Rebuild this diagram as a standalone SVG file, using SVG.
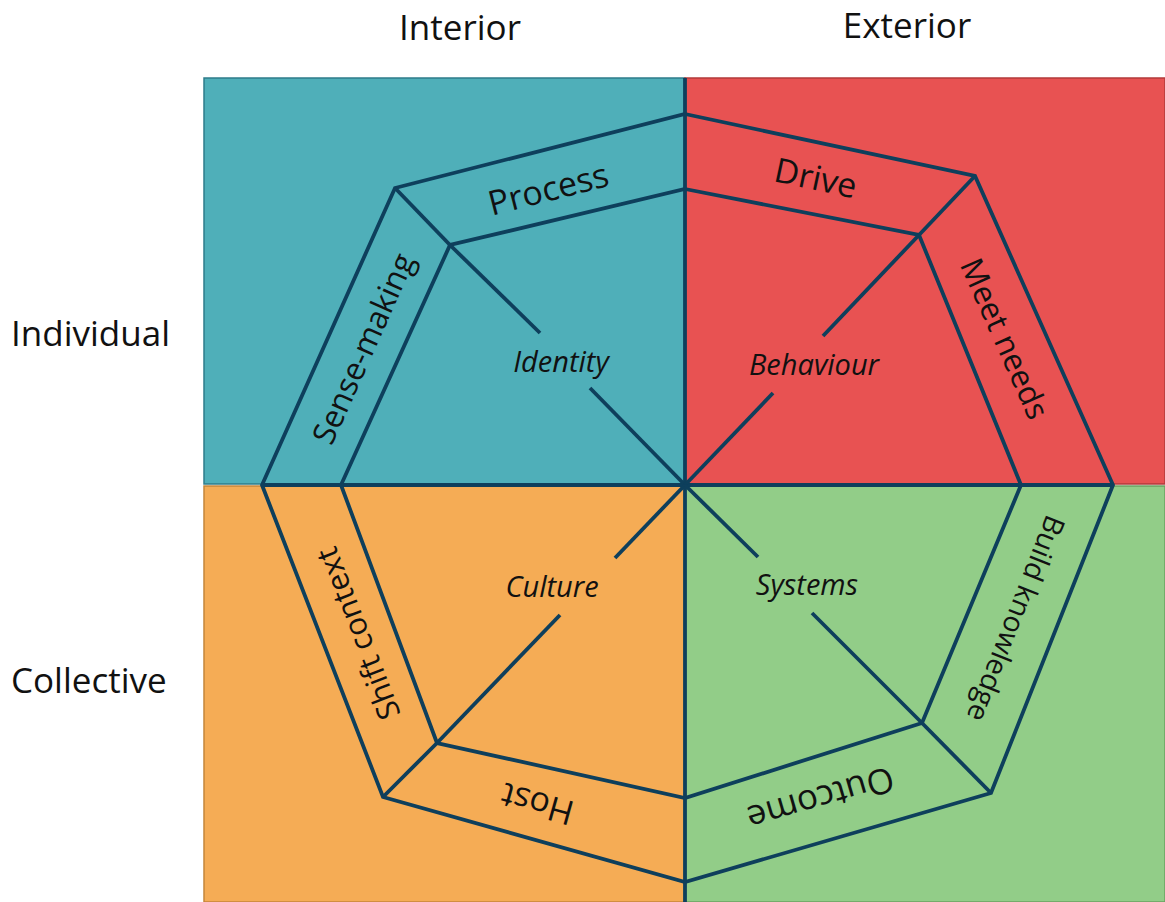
<svg xmlns="http://www.w3.org/2000/svg" width="1165" height="902" viewBox="0 0 1165 902">
<style>
.q{stroke-width:1.5}
.ln{fill:none;stroke:#0E3F5C;stroke-width:3.8;stroke-linejoin:miter}
.h{font-family:"Open Sans",Lato,sans-serif;font-size:35px;fill:#111}
.b{font-family:"Open Sans",Lato,sans-serif;font-size:34px;fill:#111;text-anchor:middle;dominant-baseline:central}
.i{font-family:"Open Sans",Lato,sans-serif;font-style:italic;font-size:29px;fill:#111;text-anchor:middle}
</style>
<rect width="1165" height="902" fill="#fff"/>
<g id="quadrants">
<rect class="q" x="204" y="78" width="481" height="406" fill="#4FAFB9" stroke="#2E7C8A"/>
<rect class="q" x="685" y="78" width="480" height="406" fill="#E85252" stroke="#B23A3A"/>
<rect class="q" x="204" y="486" width="481" height="416" fill="#F5AC55" stroke="#C4853A"/>
<rect class="q" x="685" y="486" width="480" height="416" fill="#92CD88" stroke="#6AA060"/>
</g>
<g id="connectors">
<polygon class="ln" points="685,114 975,176 1113,485 991,793 685,882 383,797 262,485 395,188"/>
<polygon class="ln" points="685,189 919,235 1021,485 922,723 685,798 437,743 341,485 450,245"/>
<line class="ln" x1="685" y1="78" x2="685" y2="902"/>
<line class="ln" x1="262" y1="485" x2="1113" y2="485"/>
<line class="ln" x1="395" y1="188" x2="450" y2="245"/>
<line class="ln" x1="975" y1="176" x2="919" y2="235"/>
<line class="ln" x1="383" y1="797" x2="437" y2="743"/>
<line class="ln" x1="991" y1="793" x2="922" y2="723"/>
<line class="ln" x1="450" y1="245" x2="540" y2="333"/>
<line class="ln" x1="590" y1="388" x2="685" y2="485"/>
<line class="ln" x1="919" y1="235" x2="823" y2="336"/>
<line class="ln" x1="773" y1="393" x2="685" y2="485"/>
<line class="ln" x1="685" y1="485" x2="615" y2="558"/>
<line class="ln" x1="560" y1="615" x2="437" y2="743"/>
<line class="ln" x1="685" y1="485" x2="758" y2="557"/>
<line class="ln" x1="812" y1="613" x2="922" y2="723"/>
</g>
<g id="headers">
<text class="h" x="460" y="40" text-anchor="middle">Interior</text>
<text class="h" x="907" y="38" text-anchor="middle">Exterior</text>
<text class="h" x="11" y="346">Individual</text>
<text class="h" x="11" y="693">Collective</text>
</g>
<g id="node-process"><text class="b" transform="translate(548,188) rotate(-14.3)">Process</text></g>
<g id="node-drive"><text class="b" transform="translate(816,177) rotate(12.1)">Drive</text></g>
<g id="node-sensemaking"><text class="b" style="font-size:31.5px" transform="translate(362,348) rotate(-65.9)">Sense-making</text></g>
<g id="node-meetneeds"><text class="b" style="font-size:31.5px" transform="translate(1006,338) rotate(65.9)">Meet needs</text></g>
<g id="node-shiftcontext"><text class="b" style="font-size:31px" transform="translate(357,634) rotate(-111.2)">Shift context</text></g>
<g id="node-buildknowledge"><text class="b" style="font-size:28.5px" transform="translate(1017,619) rotate(111.6)">Build knowledge</text></g>
<g id="node-host"><text class="b" transform="translate(537,805) rotate(195.7)">Host</text></g>
<g id="node-outcome"><text class="b" style="font-size:35px" transform="translate(821,800) rotate(163.8)">Outcome</text></g>
<g id="node-identity"><text class="i" x="561" y="372">Identity</text></g>
<g id="node-behaviour"><text class="i" x="814" y="375">Behaviour</text></g>
<g id="node-culture"><text class="i" x="552" y="597">Culture</text></g>
<g id="node-systems"><text class="i" x="807" y="595">Systems</text></g>
</svg>
